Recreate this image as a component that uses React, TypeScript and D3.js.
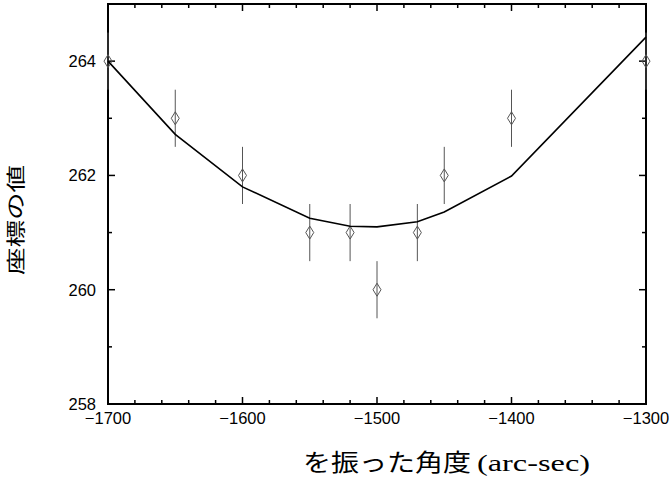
import React from "react";
import * as d3 from "d3";

const obsX = [-1700, -1650, -1600, -1550, -1520, -1500, -1470, -1450, -1400, -1300];
const obsY = [264, 263, 262, 261, 261, 260, 261, 262, 263, 264];
const obsErr = [0.5, 0.5, 0.5, 0.5, 0.5, 0.5, 0.5, 0.5, 0.5, 0.5];
const fitX = [-1700, -1650, -1600, -1550, -1520, -1500, -1470, -1450, -1400, -1300];
const fitY = [264.0, 262.72, 261.8, 261.25, 261.11, 261.1, 261.19, 261.36, 261.99, 264.42];
const xMajor = [-1700, -1600, -1500, -1400, -1300];
const xMinor = d3.range(-1700, -1299, 20).filter((v) => v % 100 !== 0);
const yMajor = [258, 260, 262, 264];
const yMinor = [259, 261, 263];

export default function App() {
  const W = 670, H = 483;
  const L = 108, R = 646, T = 4, B = 404;
  const x = d3.scaleLinear().domain([-1700, -1300]).range([L, R]);
  const y = d3.scaleLinear().domain([258, 265]).range([B, T]);
  const line = d3.line<number>().x((_, i) => x(fitX[i])).y((d) => y(d));
  const fmt = (v: number) => (v < 0 ? "\u2212" + Math.abs(v) : String(v));
  const tickFont = { fontFamily: "Liberation Sans", fontSize: 16.5, fill: "#000" } as const;
  const major = 7, minor = 4;
  return (
    <svg width={W} height={H} style={{ position: "absolute", left: 0, top: 0, background: "#fff" }}>
      <rect x={0} y={0} width={W} height={H} fill="#fff" />
      {/* ticks */}
      <g stroke="#000" strokeWidth={1.5}>
        {xMajor.map((v) => (
          <g key={"xm" + v}>
            <line x1={x(v)} x2={x(v)} y1={B} y2={B - major} />
            <line x1={x(v)} x2={x(v)} y1={T} y2={T + major} />
          </g>
        ))}
        {xMinor.map((v) => (
          <g key={"xn" + v}>
            <line x1={x(v)} x2={x(v)} y1={B} y2={B - minor} />
            <line x1={x(v)} x2={x(v)} y1={T} y2={T + minor} />
          </g>
        ))}
        {yMajor.map((v) => (
          <g key={"ym" + v}>
            <line x1={L} x2={L + major} y1={y(v)} y2={y(v)} />
            <line x1={R} x2={R - major} y1={y(v)} y2={y(v)} />
          </g>
        ))}
        {yMinor.map((v) => (
          <g key={"yn" + v}>
            <line x1={L} x2={L + minor} y1={y(v)} y2={y(v)} />
            <line x1={R} x2={R - minor} y1={y(v)} y2={y(v)} />
          </g>
        ))}
      </g>
      {/* frame */}
      <rect x={L} y={T} width={R - L} height={B - T} fill="none" stroke="#000" strokeWidth={2} />
      {/* tick labels */}
      {xMajor.map((v) => (
        <text key={"xl" + v} x={x(v)} y={424} textAnchor="middle" {...tickFont}>
          {fmt(v)}
        </text>
      ))}
      {yMajor.map((v) => (
        <text key={"yl" + v} x={96} y={y(v) + 6} textAnchor="end" {...tickFont}>
          {fmt(v)}
        </text>
      ))}
      {/* error bars and diamonds */}
      <g stroke="#555" strokeWidth={1} fill="none">
        {obsX.map((v, i) => (
          <line key={"e" + i} x1={x(v)} x2={x(v)} y1={y(obsY[i] - obsErr[i])} y2={y(obsY[i] + obsErr[i])} />
        ))}
        {obsX.map((v, i) => {
          const cx = x(v), cy = y(obsY[i]);
          return (
            <path key={"d" + i} d={`M${cx},${cy - 6.5}L${cx + 4},${cy}L${cx},${cy + 6.5}L${cx - 4},${cy}Z`} />
          );
        })}
      </g>
      {/* fit line */}
      <path d={line(fitY) || ""} fill="none" stroke="#000" strokeWidth={1.6} />
      {/* axis titles */}
      <text x={303} y={471} style={{ fontSize: 24 }}>
        <tspan fontFamily="Noto Sans CJK JP" textLength={168} lengthAdjust="spacingAndGlyphs">を振った角度</tspan>
        <tspan fontFamily="Liberation Serif" dx={6} textLength={113} lengthAdjust="spacingAndGlyphs">(arc-sec)</tspan>
      </text>
      <text
        transform={`translate(23,220) rotate(-90)`}
        textAnchor="middle"
        fontFamily="Noto Sans CJK JP"
        fontSize={19}
        textLength={110}
        lengthAdjust="spacingAndGlyphs"
      >
        座標の値
      </text>
    </svg>
  );
}
